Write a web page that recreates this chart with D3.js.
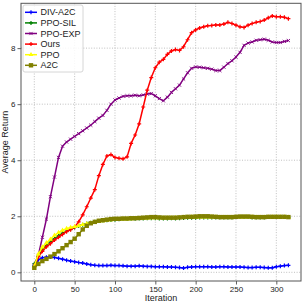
<!DOCTYPE html>
<html>
<head>
<meta charset="utf-8">
<script src="https://cdn.jsdelivr.net/npm/d3@7"></script>
<style>
  body { margin: 0; background: #fff; }
  svg { display: block; font-family: "Liberation Sans", Arial, sans-serif; }
</style>
</head>
<body>
<svg width="305" height="306"></svg>
<script>
// iterations (one point every 5 iterations)
var iterations = d3.range(0, 320, 5);

var divA2C = [0.25,0.45,0.52,0.54,0.55,0.53,0.50,0.47,0.43,0.40,0.38,0.35,0.33,0.30,0.27,0.25,
  0.24,0.24,0.24,0.25,0.24,0.24,0.23,0.22,0.22,0.22,0.23,0.22,0.21,0.21,0.20,0.20,
  0.20,0.19,0.19,0.18,0.17,0.15,0.18,0.19,0.20,0.20,0.20,0.20,0.19,0.19,0.20,0.20,
  0.19,0.19,0.19,0.19,0.18,0.17,0.17,0.18,0.18,0.17,0.16,0.16,0.20,0.22,0.24,0.25];

var ppoSIL = [0.30,0.58,0.80,0.95,1.08,1.20,1.30,1.40,1.47,1.54,1.60,1.65,1.70,1.74,1.77,1.80,
  1.83,1.85,1.86,1.87,1.88,1.89,1.90,1.90,1.91,1.91,1.92,1.92,1.93,1.93,1.93,1.92,
  1.92,1.92,1.93,1.92,1.93,1.94,1.95,1.95,1.95,1.96,1.96,1.96,1.96,1.96,1.96,1.96,
  1.96,1.96,1.97,1.97,1.97,1.97,1.96,1.96,1.96,1.96,1.97,1.97,1.97,1.97,1.97,1.97];

var ppoEXP = [0.25,0.60,1.25,1.90,2.70,3.40,4.10,4.50,4.65,4.75,4.85,4.95,5.05,5.15,5.25,5.38,
  5.50,5.60,5.78,6.00,6.15,6.22,6.28,6.30,6.30,6.32,6.30,6.33,6.36,6.38,6.30,6.20,
  6.12,6.25,6.42,6.55,6.68,6.90,7.12,7.28,7.33,7.32,7.30,7.28,7.25,7.20,7.20,7.32,
  7.45,7.55,7.68,7.85,8.10,8.18,8.22,8.28,8.30,8.32,8.28,8.22,8.20,8.20,8.24,8.27];

var ours = [0.20,0.55,0.75,0.91,1.02,1.15,1.25,1.35,1.45,1.52,1.62,1.80,2.05,2.34,2.65,2.95,
  3.45,3.85,4.15,4.20,4.10,4.07,4.05,4.12,4.60,4.90,5.30,5.90,6.50,6.95,7.30,7.50,
  7.60,7.78,7.90,7.95,7.92,8.05,8.30,8.55,8.65,8.72,8.76,8.80,8.81,8.83,8.83,8.86,
  8.92,8.88,8.82,8.76,8.74,8.82,8.88,8.92,8.95,9.00,9.08,9.15,9.12,9.12,9.10,9.05];

var ppo = [0.22,0.65,0.90,1.05,1.18,1.32,1.42,1.50,1.56,1.60,1.63,1.66,1.70,1.73,1.76,1.79,
  1.82,1.84,1.86,1.87,1.88,1.89,1.90,1.90,1.91,1.92,1.92,1.93,1.93,1.94,1.94,1.94,
  1.94,1.94,1.94,1.95,1.95,1.96,1.96,1.97,1.97,1.97,1.97,1.97,1.97,1.97,1.96,1.96,
  1.96,1.96,1.97,1.97,1.97,1.97,1.97,1.96,1.96,1.96,1.97,1.97,1.97,1.97,1.97,1.96];

var a2c = [0.16,0.30,0.40,0.48,0.56,0.65,0.75,0.86,0.97,1.08,1.20,1.36,1.53,1.66,1.75,1.80,
  1.84,1.86,1.88,1.90,1.91,1.91,1.92,1.92,1.93,1.93,1.94,1.95,1.96,1.97,1.97,1.96,
  1.95,1.95,1.95,1.95,1.96,1.97,1.98,1.98,1.99,2.00,2.00,2.00,1.99,1.98,1.97,1.97,
  1.97,1.97,1.98,1.99,1.99,1.99,1.98,1.97,1.97,1.97,1.98,1.98,1.98,1.98,1.98,1.97];

var xTicks = [0, 50, 100, 150, 200, 250, 300];
var yTicks = [0, 2, 4, 6, 8];

var series = [
  { name: "DIV-A2C", values: divA2C, color: "#0000ff", marker: "plus" },
  { name: "PPO-SIL", values: ppoSIL, color: "#008000", marker: "plus" },
  { name: "PPO-EXP", values: ppoEXP, color: "#800080", marker: "x" },
  { name: "Ours",    values: ours,   color: "#ff0000", marker: "plus" },
  { name: "PPO",     values: ppo,    color: "#ffff00", marker: "tri" },
  { name: "A2C",     values: a2c,    color: "#808000", marker: "square" }
];

var svg = d3.select("svg");
var mLeft = 21, mRight = 301, mTop = 3.3, mBottom = 281;

var x = d3.scaleLinear().domain([-16.5, 330.6]).range([mLeft, mRight]);
var y = d3.scaleLinear().domain([-0.31, 9.6]).range([mBottom, mTop]);

// grid
var grid = svg.append("g");
grid.selectAll(".gx").data(xTicks).enter().append("line")
  .attr("x1", d => x(d)).attr("x2", d => x(d))
  .attr("y1", mTop).attr("y2", mBottom)
  .attr("stroke", "#b0b0b0").attr("stroke-width", 0.8).attr("stroke-dasharray", "1,1.6");
grid.selectAll(".gy").data(yTicks).enter().append("line")
  .attr("x1", mLeft).attr("x2", mRight)
  .attr("y1", d => y(d)).attr("y2", d => y(d))
  .attr("stroke", "#b0b0b0").attr("stroke-width", 0.8).attr("stroke-dasharray", "1,1.6");

// axes
var xAxis = svg.append("g").attr("transform", "translate(0," + mBottom + ")")
  .call(d3.axisBottom(x).tickValues(xTicks).tickSize(3.5).tickPadding(1.5));
var yAxis = svg.append("g").attr("transform", "translate(" + mLeft + ",0)")
  .call(d3.axisLeft(y).tickValues(yTicks).tickSize(3.5).tickPadding(2));
[xAxis, yAxis].forEach(function (a) {
  a.select(".domain").remove();
  a.selectAll("line").attr("stroke", "#333").attr("stroke-width", 0.8);
  a.selectAll("text").attr("fill", "#222").style("font-size", "8px")
    .style("font-family", "'Liberation Sans', Arial, sans-serif");
});

// lines
var line = d3.line().x((d, i) => x(iterations[i])).y(d => y(d));

function drawMarker(g, type, cx, cy, color) {
  if (type === "square") {
    g.append("rect").attr("x", cx - 2.2).attr("y", cy - 2.2).attr("width", 4.4).attr("height", 4.4)
      .attr("fill", color);
  } else if (type === "tri") {
    g.append("path").attr("d", d3.symbol(d3.symbolTriangle, 10)())
      .attr("transform", "translate(" + cx + "," + cy + ")").attr("fill", color);
  } else if (type === "x") {
    g.append("path").attr("d", "M-1.6,-1.6L1.6,1.6M-1.6,1.6L1.6,-1.6")
      .attr("transform", "translate(" + cx + "," + cy + ")")
      .attr("stroke", color).attr("stroke-width", 0.9);
  } else {
    g.append("path").attr("d", "M-2,0L2,0M0,-2L0,2")
      .attr("transform", "translate(" + cx + "," + cy + ")")
      .attr("stroke", color).attr("stroke-width", 1.2);
  }
}

var plot = svg.append("g");
series.forEach(function (s) {
  var g = plot.append("g");
  g.append("path").datum(s.values).attr("d", line)
    .attr("fill", "none").attr("stroke", s.color).attr("stroke-width", 1.5)
    .attr("stroke-linejoin", "round");
  s.values.forEach(function (v, i) {
    drawMarker(g, s.marker, x(iterations[i]), y(v), s.color);
  });
});

// frame
svg.append("rect").attr("x", mLeft).attr("y", mTop)
  .attr("width", mRight - mLeft).attr("height", mBottom - mTop)
  .attr("fill", "none").attr("stroke", "#555").attr("stroke-width", 1);

// axis titles
svg.append("text").attr("x", (mLeft + mRight) / 2).attr("y", 301)
  .attr("text-anchor", "middle").style("font-size", "9px").attr("fill", "#222")
  .text("Iteration");
svg.append("text").attr("transform", "translate(8," + ((mTop + mBottom) / 2) + ") rotate(-90)")
  .attr("text-anchor", "middle").style("font-size", "9px").attr("fill", "#222")
  .text("Average Return");

// legend
var lg = svg.append("g");
lg.append("rect").attr("x", 23).attr("y", 5).attr("width", 60).attr("height", 67)
  .attr("rx", 2).attr("fill", "#fff").attr("fill-opacity", 0.85)
  .attr("stroke", "#ccc").attr("stroke-width", 0.8);
series.forEach(function (s, i) {
  var ly = 12.3 + i * 10.6;
  lg.append("line").attr("x1", 25).attr("x2", 37).attr("y1", ly).attr("y2", ly)
    .attr("stroke", s.color).attr("stroke-width", 1.5);
  drawMarker(lg, s.marker, 31, ly, s.color);
  lg.append("text").attr("x", 40.5).attr("y", ly).attr("dy", "0.35em")
    .style("font-size", "9px").attr("fill", "#222").text(s.name);
});
</script>
</body>
</html>
